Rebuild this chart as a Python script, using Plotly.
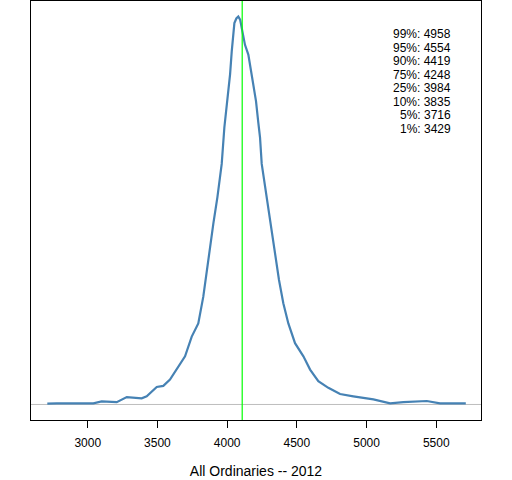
import plotly.graph_objects as go

# density curve (relative height, peak = 1)
index_level = [2710, 2778, 3040, 3100, 3208, 3280, 3387, 3423, 3495, 3542, 3590,
               3650, 3698, 3746, 3793, 3829, 3854, 3877, 3901, 3930, 3961, 3980,
               3997, 4009, 4021, 4033, 4044, 4052, 4066, 4080, 4093, 4112, 4128,
               4152, 4169, 4188, 4207, 4224, 4236, 4248, 4284, 4315, 4344, 4372,
               4403, 4439, 4487, 4547, 4595, 4654, 4726, 4810, 4905, 5049, 5169,
               5264, 5432, 5527, 5712]
density = [0.002, 0.003, 0.003, 0.008, 0.006, 0.019, 0.016, 0.021, 0.045, 0.048, 0.064,
           0.098, 0.124, 0.175, 0.209, 0.278, 0.346, 0.406, 0.466, 0.534, 0.620, 0.714,
           0.765, 0.799, 0.851, 0.910, 0.953, 0.983, 0.995, 1.0, 0.992, 0.953, 0.927,
           0.902, 0.868, 0.825, 0.782, 0.725, 0.688, 0.620, 0.534, 0.449, 0.380, 0.321,
           0.261, 0.209, 0.158, 0.124, 0.090, 0.060, 0.043, 0.027, 0.021, 0.013, 0.003,
           0.006, 0.009, 0.003, 0.003]

median = 4108
pct_labels = ['99%', '95%', '90%', '75%', '25%', '10%', '5%', '1%']
pct_values = [4958, 4554, 4419, 4248, 3984, 3835, 3716, 3429]

fig = go.Figure(go.Scatter(
    x=index_level, y=density, mode='lines',
    line=dict(color='steelblue', width=2.2),
    hoverinfo='skip',
))

fig.add_shape(type='line', xref='paper', x0=0, x1=1, yref='y', y0=0, y1=0,
              line=dict(color='#bebebe', width=1), layer='below')
fig.add_shape(type='line', xref='x', x0=median, x1=median, yref='paper', y0=0, y1=1,
              line=dict(color='#00ff00', width=1.2))

for i, (lab, val) in enumerate(zip(pct_labels, pct_values)):
    fig.add_annotation(xref='paper', yref='paper', x=0.937, y=0.921 - i * 0.0322,
                       text=f'{lab}: {val}', showarrow=False,
                       xanchor='right', yanchor='middle',
                       font=dict(size=12, color='black'))

fig.update_layout(
    width=512, height=480,
    plot_bgcolor='white', paper_bgcolor='white',
    showlegend=False,
    margin=dict(l=31, r=31, t=1, b=60),
    font=dict(family='Liberation Sans, Arial, sans-serif', size=12, color='black'),
    xaxis=dict(range=[2593, 5821], tickvals=[3000, 3500, 4000, 4500, 5000, 5500],
               ticks='outside', ticklen=7, tickcolor='black', ticklabelstandoff=5,
               showgrid=False, zeroline=False, showline=True, linecolor='black',
               linewidth=1, mirror=True,
               title=dict(text='All Ordinaries -- 2012', standoff=16)),
    yaxis=dict(range=[-0.04, 1.04], showticklabels=False, ticks='', showgrid=False,
               zeroline=False, showline=True, linecolor='black', linewidth=1, mirror=True),
)

# page body has a default margin; drop it so the figure sits at the window corner
fig.write_html('out.html', config={'displayModeBar': False},
               post_script="document.body.style.margin='0px';")
